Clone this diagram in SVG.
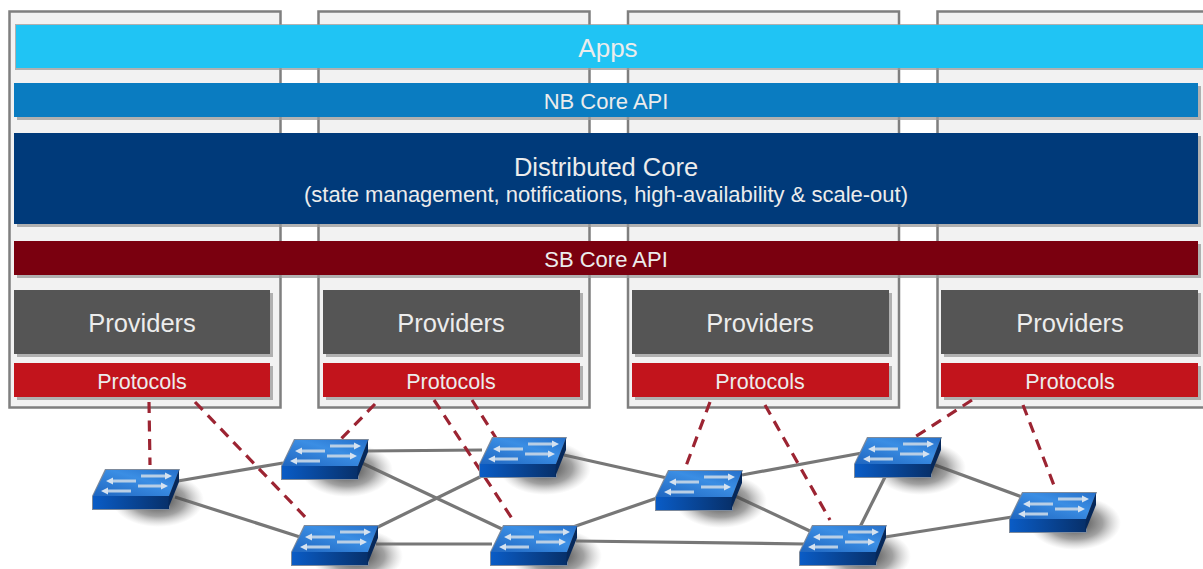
<svg xmlns="http://www.w3.org/2000/svg" width="1203" height="569" viewBox="0 0 1203 569">
<style>
text{font-family:"Liberation Sans",Arial,sans-serif;fill:#ececec;text-anchor:middle}
.host{fill:#f2f2f2;stroke:#7f7f7f;stroke-width:2.5}
.sh{fill:#9a9a9a;opacity:.75}
.p{font-size:25.5px}.r{font-size:21.5px}.b{font-size:22px}
.g line{stroke:#777;stroke-width:3.2}
.d line{stroke:#9c2432;stroke-width:3.2;stroke-dasharray:11 7.5}
</style>
<defs>
<linearGradient id="top" x1="0" y1="1" x2="1" y2="0"><stop offset="0" stop-color="#1f66c0"/><stop offset=".6" stop-color="#3b8ee4"/><stop offset="1" stop-color="#2670ca"/></linearGradient>
<linearGradient id="front" x1="0" y1="0" x2="1" y2="0"><stop offset="0" stop-color="#0a5cc6"/><stop offset="1" stop-color="#07306a"/></linearGradient>
<radialGradient id="shade"><stop offset="0" stop-color="#222" stop-opacity=".9"/><stop offset=".6" stop-color="#555" stop-opacity=".55"/><stop offset="1" stop-color="#999" stop-opacity="0"/></radialGradient>
<filter id="soft" x="-10%" y="-10%" width="120%" height="120%"><feGaussianBlur stdDeviation=".5"/></filter>
<g id="sw">
<ellipse cx="66" cy="31" rx="46" ry="27" fill="url(#shade)"/>
<path d="M0 27L13 0H88L78 29V41H0Z" fill="#7d8a9c"/>
<path d="M1 27L14 1H87L77 27Z" fill="url(#top)"/>
<path d="M1 27H77V40H1Z" fill="url(#front)"/>
<path d="M77 27L87 1V13L76 40Z" fill="#06285a"/>
<g filter="url(#soft)">
<path d="M19 12H44M49 7H75M46 17H71M14 22H39" fill="none" stroke="#b9cfe6" stroke-width="3"/>
<path d="M14 12l7-3.5v7zM80 7l-7-3.5v7zM76 17l-7-3.5v7zM9 22l7-3.5v7z" fill="#d5e2f0"/>
</g>
</g>
</defs>
<rect width="1203" height="569" fill="#fff"/>
<g id="hosts">
<rect id="host-1" class="host" x="9.5" y="11.5" width="271" height="396"/>
<rect id="host-2" class="host" x="318.5" y="11.5" width="271" height="396"/>
<rect id="host-3" class="host" x="628" y="11.5" width="271" height="396"/>
<rect id="host-4" class="host" x="937.5" y="11.5" width="280" height="396"/>
</g>
<g id="apps">
<rect class="sh" x="15" y="24" width="1188" height="46"/><rect x="16" y="25" width="1187" height="43" fill="#20c4f4"/>
<text x="608" y="57" style="font-size:26px">Apps</text></g>
<g id="nb-core-api">
<rect class="sh" x="17" y="86" width="1184" height="34"/><rect x="14" y="83" width="1184" height="34" fill="#0a7cc1"/>
<text x="606" y="109" class="b">NB Core API</text></g>
<g id="distributed-core">
<rect class="sh" x="17" y="136" width="1184" height="91"/><rect x="14" y="133" width="1184" height="91" fill="#003a7a"/>
<text x="606" y="176" style="font-size:25.5px">Distributed Core</text>
<text x="606" y="202" class="b">(state management, notifications, high-availability &amp; scale-out)</text></g>
<g id="sb-core-api">
<rect class="sh" x="17" y="244" width="1184" height="34"/><rect x="14" y="241" width="1184" height="34" fill="#7a000f"/>
<text x="606" y="267" class="b">SB Core API</text></g>
<g id="providers-1"><rect class="sh" x="17" y="293" width="256" height="64"/><rect x="14" y="290" width="256" height="64" fill="#555"/><text x="142" y="332" class="p">Providers</text></g>
<g id="protocols-1"><rect class="sh" x="17" y="366" width="256" height="34"/><rect x="14" y="363" width="256" height="34" fill="#c2141c"/><text x="142" y="389" class="r">Protocols</text></g>
<g id="providers-2"><rect class="sh" x="326" y="293" width="257" height="64"/><rect x="323" y="290" width="257" height="64" fill="#555"/><text x="451" y="332" class="p">Providers</text></g>
<g id="protocols-2"><rect class="sh" x="326" y="366" width="257" height="34"/><rect x="323" y="363" width="257" height="34" fill="#c2141c"/><text x="451" y="389" class="r">Protocols</text></g>
<g id="providers-3"><rect class="sh" x="635" y="293" width="257" height="64"/><rect x="632" y="290" width="257" height="64" fill="#555"/><text x="760" y="332" class="p">Providers</text></g>
<g id="protocols-3"><rect class="sh" x="635" y="366" width="257" height="34"/><rect x="632" y="363" width="257" height="34" fill="#c2141c"/><text x="760" y="389" class="r">Protocols</text></g>
<g id="providers-4"><rect class="sh" x="944" y="293" width="257" height="64"/><rect x="941" y="290" width="257" height="64" fill="#555"/><text x="1070" y="332" class="p">Providers</text></g>
<g id="protocols-4"><rect class="sh" x="944" y="366" width="257" height="34"/><rect x="941" y="363" width="257" height="34" fill="#c2141c"/><text x="1070" y="389" class="r">Protocols</text></g>
<g id="connectors">
<g class="g">
<line x1="178" y1="481" x2="283" y2="463"/>
<line x1="175" y1="497" x2="300" y2="537"/>
<line x1="366" y1="451" x2="482" y2="450"/>
<line x1="362" y1="463" x2="502" y2="529"/>
<line x1="492" y1="471" x2="376" y2="528"/>
<line x1="376" y1="544" x2="492" y2="544"/>
<line x1="564" y1="455" x2="667" y2="478"/>
<line x1="573" y1="527" x2="660" y2="497"/>
<line x1="576" y1="541" x2="804" y2="544"/>
<line x1="733" y1="495" x2="812" y2="532"/>
<line x1="742" y1="475" x2="862" y2="453"/>
<line x1="885" y1="477" x2="860" y2="527"/>
<line x1="935" y1="465" x2="1022" y2="497"/>
<line x1="885" y1="537" x2="1012" y2="517"/>
</g>
<g class="d">
<line x1="149" y1="402" x2="150" y2="465"/>
<line x1="195" y1="402" x2="310" y2="522"/>
<line x1="375" y1="404" x2="340" y2="440"/>
<line x1="434" y1="400" x2="513" y2="520"/>
<line x1="472" y1="400" x2="496" y2="438"/>
<line x1="710" y1="402" x2="686" y2="466"/>
<line x1="765" y1="405" x2="830" y2="520"/>
<line x1="972" y1="400" x2="915" y2="437"/>
<line x1="1023" y1="405" x2="1055" y2="488"/>
</g>
</g>
<g id="switch-1"><use href="#sw" x="92" y="469"/></g>
<g id="switch-2"><use href="#sw" x="281" y="439"/></g>
<g id="switch-3"><use href="#sw" x="479" y="437"/></g>
<g id="switch-4"><use href="#sw" x="291" y="525"/></g>
<g id="switch-5"><use href="#sw" x="490" y="525"/></g>
<g id="switch-6"><use href="#sw" x="655" y="470"/></g>
<g id="switch-7"><use href="#sw" x="854" y="437"/></g>
<g id="switch-8"><use href="#sw" x="799" y="525"/></g>
<g id="switch-9"><use href="#sw" x="1009" y="492"/></g>
</svg>
